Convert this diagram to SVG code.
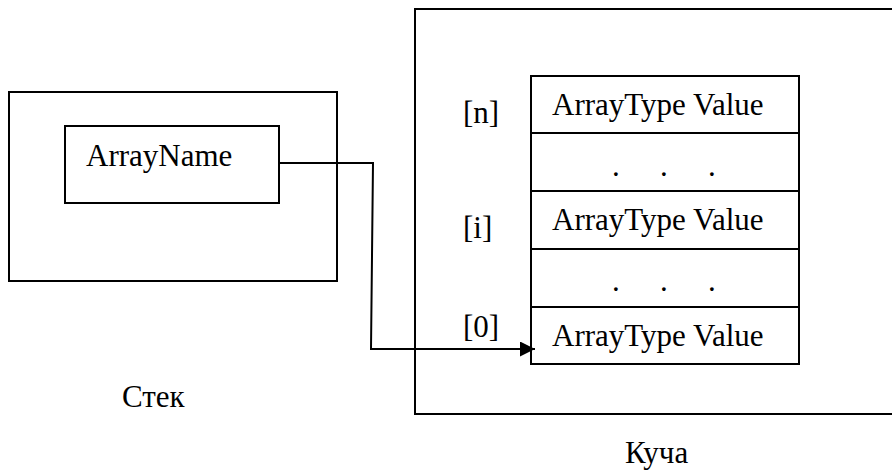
<svg xmlns="http://www.w3.org/2000/svg" width="892" height="470" viewBox="0 0 892 470">
<defs>
<style>
.box{fill:#fff;stroke:#000;stroke-width:2}
.ln{fill:none;stroke:#000;stroke-width:2}
text{font-family:"Liberation Serif","Times New Roman",serif;font-size:31px;fill:#000}
</style>
<marker id="arr" viewBox="0 0 10 10" refX="10" refY="5" markerWidth="15" markerHeight="15" markerUnits="userSpaceOnUse" orient="auto">
<path d="M0,0 L10,5 L0,10 Z" fill="#000"/>
</marker>
</defs>
<rect width="892" height="470" fill="#fff"/>
<g id="stack">
<rect class="box" x="9" y="92" width="328" height="189"/>
<text x="122" y="407">Стек</text>
</g>
<g id="arrayname">
<rect class="box" x="65" y="126" width="214" height="77"/>
<text x="86" y="166">ArrayName</text>
</g>
<g id="heap">
<rect class="box" x="415" y="9" width="490" height="405"/>
<text x="625" y="463">Куча</text>
</g>
<g id="array">
<rect class="box" x="531" y="76" width="268" height="288"/>
<line class="ln" x1="531" y1="133" x2="799" y2="133"/>
<line class="ln" x1="531" y1="191" x2="799" y2="191"/>
<line class="ln" x1="531" y1="249" x2="799" y2="249"/>
<line class="ln" x1="531" y1="307" x2="799" y2="307"/>
<text x="552" y="115">ArrayType Value</text>
<text x="552" y="230">ArrayType Value</text>
<text x="552" y="346">ArrayType Value</text>
<text x="612" y="176">.</text><text x="660" y="176">.</text><text x="708" y="176">.</text>
<text x="612" y="291">.</text><text x="660" y="291">.</text><text x="708" y="291">.</text>
<text x="463" y="123">[n]</text>
<text x="463" y="238">[i]</text>
<text x="463" y="337">[0]</text>
</g>
<g id="connectors">
<polyline class="ln" points="279,163 373,163 371,349 535,349" marker-end="url(#arr)"/>
</g>
</svg>
